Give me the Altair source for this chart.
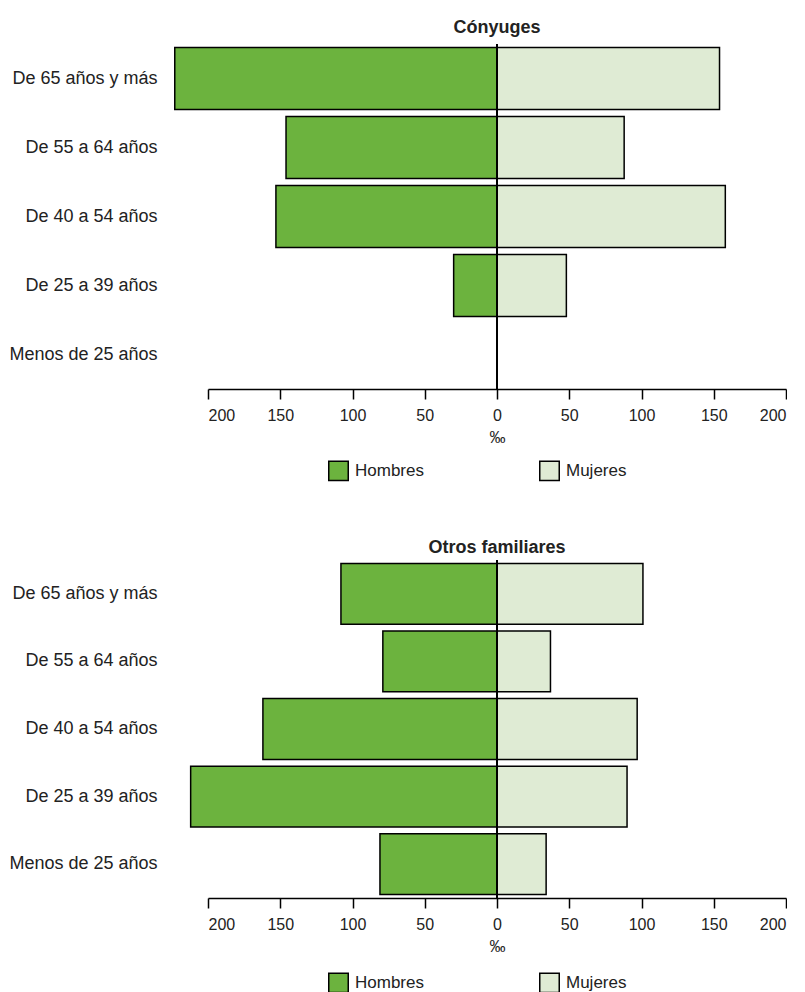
import altair as alt
import pandas as pd

categories = ["De 65 años y más", "De 55 a 64 años", "De 40 a 54 años",
              "De 25 a 39 años", "Menos de 25 años"]
sexes = ["Hombres", "Mujeres"]
tick_values = [-200, -150, -100, -50, 0, 50, 100, 150, 200]

conyuges_hombres = [223, 146, 153, 30, 0]
conyuges_mujeres = [154, 88, 158, 48, 0]
otros_hombres = [108, 79, 162, 212, 81]
otros_mujeres = [101, 37, 97, 90, 34]

GREEN = "#6cb33e"
LIGHT = "#dfebd4"
FONT = "Liberation Sans"


def make_df(h_vals, m_vals):
    rows = []
    for c, h, m in zip(categories, h_vals, m_vals):
        rows.append({"grupo": c, "sexo": "Hombres", "valor": -h})
        rows.append({"grupo": c, "sexo": "Mujeres", "valor": m})
    return pd.DataFrame(rows)


def panel(title, h_vals, m_vals, height, legend_y, title_offset):
    df = make_df(h_vals, m_vals)
    bars = alt.Chart(df).mark_bar(stroke="black", strokeWidth=1.5).encode(
        y=alt.Y("grupo:N", sort=categories,
                scale=alt.Scale(paddingInner=0.1, paddingOuter=0.05),
                axis=alt.Axis(title=None, ticks=False, domain=False,
                              labelFontSize=18, offset=48, labelPadding=3,
                              labelColor="#222", labelFont=FONT, labelLimit=300)),
        x=alt.X("valor:Q",
                scale=alt.Scale(domain=[-200, 200], nice=False),
                axis=alt.Axis(values=tick_values, labelExpr="abs(datum.value)",
                              title="‰", grid=False, tickSize=10, tickWidth=1.5,
                              tickColor="black", domainColor="black",
                              domainWidth=1.5, labelFontSize=16,
                              labelColor="#222", labelPadding=8,
                              titleFontSize=16, titleFontWeight="normal",
                              titleColor="#222", titlePadding=6,
                              labelFont=FONT, titleFont=FONT)),
        color=alt.Color("sexo:N",
                        scale=alt.Scale(domain=sexes, range=[GREEN, LIGHT]),
                        legend=alt.Legend(title=None, orient="none",
                                          legendX=120, legendY=legend_y,
                                          direction="horizontal",
                                          symbolType="square", symbolSize=380,
                                          symbolStrokeColor="black",
                                          symbolStrokeWidth=1.5,
                                          symbolOpacity=1,
                                          labelFontSize=17, labelColor="#222",
                                          labelFont=FONT, labelOffset=6,
                                          columnPadding=112)),
    )
    rule = alt.Chart(pd.DataFrame({"x": [0]})).mark_rule(
        color="black", strokeWidth=2).encode(x="x:Q")
    return alt.layer(bars, rule).properties(
        width=578, height=height,
        title=alt.TitleParams(title, fontSize=18, fontWeight="bold",
                              font=FONT, color="#222", offset=title_offset,
                              anchor="middle"))


top = panel("Cónyuges", conyuges_hombres, conyuges_mujeres, 345, 416, 6)
bottom = panel("Otros familiares", otros_hombres, otros_mujeres, 338, 412, 2)

chart = alt.vconcat(top, bottom, spacing=55).resolve_scale(
    color="independent").properties(
    padding={"left": 0, "top": 11, "right": 0, "bottom": 0}
).configure(font=FONT, view=alt.ViewConfig(stroke=None))

chart.save("out.html", embed_options={"renderer": "svg", "actions": False})
